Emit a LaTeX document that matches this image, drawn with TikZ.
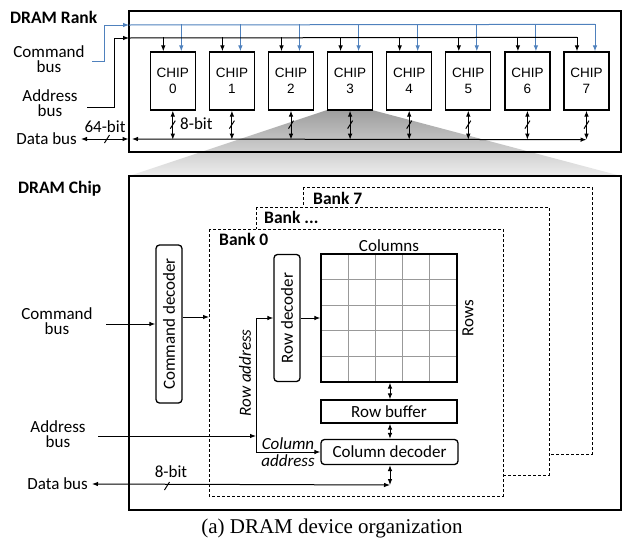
\documentclass[tikz,border=0pt]{standalone}
\usepackage{fontspec}
\setmainfont{Carlito}
\newfontfamily\chipfont{Liberation Sans}
\newfontfamily\capfont{Liberation Serif}
\usepackage{tikz}
\usetikzlibrary{arrows.meta}
\definecolor{cmdblue}{RGB}{79,129,189}
\def\busslash(#1,#2){\draw[wire] (#1-2.5,#2+4) -- (#1+2.5,#2-4);}
\tikzset{
  >={Latex[length=6pt,width=4.6pt]},
  wire/.style={line width=1pt},
  box/.style={draw, line width=1.3pt, fill=white, inner sep=0pt},
  chipbox/.style={box, minimum width=45pt, minimum height=58pt, align=center,
    font=\chipfont\fontsize{13.5}{16}\selectfont},
  rbox/.style={box, rounded corners=3.5pt},
  bankbox/.style={draw, line width=0.9pt, dash pattern=on 3pt off 2pt, fill=white},
  gridline/.style={line width=0.8pt, black!40},
  lbl/.style={font=\fontsize{17}{15.5}\selectfont, align=center, inner sep=0pt},
  title/.style={font=\bfseries\fontsize{17.5}{18}\selectfont, inner sep=0pt, anchor=west},
}

\begin{document}
\begin{tikzpicture}[x=1pt,y=-1pt]
		\useasboundingbox (0,0) rectangle (625,544);
		%%%%% RANK %%%%%
		\shade[top color=black!38, bottom color=black!7] (327,110) -- (372,110) -- (621,176) -- (129,176) -- cycle;
		\draw[line width=1.3pt] (129,11) rectangle (621,152);
		\node[title] (ranktitle) at (10,17) {DRAM Rank};
		\node[lbl] (rankcmd) at (49,59) {Command\\bus};
		\node[lbl] (rankaddr) at (50,103) {Address\\bus};
		\node[lbl, anchor=east] (rankdata) at (77,139) {Data bus};
		
		\foreach \i in {0,...,7}{
			\node[chipbox] (chip\i) at ({172.8+59.1*\i},81) {CHIP\\\i};
			\draw[wire,->] ([xshift=-9.5pt,yshift=14pt]chip\i.north) -- ([xshift=-9.5pt]chip\i.north);
			\draw[wire,cmdblue,->] ([xshift=8.5pt,yshift=27pt]chip\i.north) -- ([xshift=8.5pt]chip\i.north);
			\draw[wire,<->] (chip\i.south) -- ++(0,29);
			\draw[wire] ([xshift=-2.5pt,yshift=-18pt]chip\i.south) -- ([xshift=2.5pt,yshift=-10pt]chip\i.south);
		}
		\node[lbl, anchor=west] (chipwidth) at (180,124) {8-bit};
		
		\draw[wire,cmdblue,->] (92,61) -- (104,61) |- (129,25);
		\draw[wire,cmdblue] (129,25) -- ([xshift=8.5pt,yshift=27pt]chip7.north);
		\draw[wire,->] (87,107) -- (114,107) |- (129,38);
		\draw[wire] (129,38) -- ([xshift=-9.5pt,yshift=14pt]chip7.north);
		\draw[wire,<->] (132,139) -- ([yshift=-29pt]chip7.south);
		\draw[wire,<->] ([xshift=4pt]rankdata.east) -- (128.5,139);
		\busslash(107,139)
		\node[lbl] (rankwidth) at (105,127) {64-bit};
		
		%%%%% CHIP %%%%%
		\draw[line width=1.3pt] (129,176) rectangle (621,510);
		\node[title] (chiptitle) at (18,189) {DRAM Chip};
		
		\draw[bankbox] (303,187) rectangle (592,454);
		\node[title] (bank7) at (313,198) {Bank 7};
		\draw[bankbox] (256,207) rectangle (549,475);
		\node[title] (bankdots) at (264,217) {Bank ...};
		\draw[bankbox] (209,229) rectangle (503,496);
		\node[title] (bank0) at (219,239) {Bank 0};
		
		\node[rbox, minimum width=26pt, minimum height=158pt] (cmddec) at (169,324) {};
		\node[lbl, rotate=90] at (cmddec) {Command decoder};
		\node[rbox, minimum width=26pt, minimum height=127pt] (rowdec) at (287,318) {};
		\node[lbl, rotate=90] at (rowdec) {Row decoder};
		\node[box, minimum width=136pt, minimum height=128pt] (array) at (389,318) {};
		\foreach \k in {1,...,4}{
			\draw[gridline] ({321+27.2*\k},255) -- ({321+27.2*\k},381);
			\draw[gridline] (322,{254+25.6*\k}) -- (456,{254+25.6*\k});
		}
		\draw[line width=1.3pt] (array.north west) rectangle (array.south east);
		\node[lbl, anchor=south] (cols) at (389,252) {Columns};
		\node[lbl, rotate=90] (rows) at (468,318) {Rows};
		\node[box, minimum width=136pt, minimum height=23pt, lbl] (rowbuf) at (389,411.5) {Row buffer};
		\node[rbox, minimum width=137pt, minimum height=25pt, lbl] (coldec) at (389.5,452) {Column decoder};
		
		\node[lbl] (chipcmd) at (57,321) {Command\\bus};
		\node[lbl] (chipaddr) at (58,434) {Address\\bus};
		\node[lbl, anchor=east] (chipdata) at (88,484) {Data bus};
		\draw[wire,->] (106,324) -- (cmddec.west |- 0,324);
		\draw[wire,->] (cmddec.east |- 0,317) -- (209,317);
		\draw[wire,<->] (rowdec.west) -| (256,452) -- (coldec.west);
		\draw[wire,->] (98,436) -- (256,436);
		\draw[wire,->] (rowdec.east) -- (array.west);
		\node[lbl, font=\itshape\fontsize{17}{15}\selectfont, rotate=90] (rowaddr) at (245,373) {Row address};
		\node[lbl, font=\itshape\fontsize{17}{17}\selectfont] (coladdr) at (288,452) {Column\\address};
		
		\draw[wire,<->] (array.south -| 390,0) -- (rowbuf.north -| 390,0);
		\draw[wire,<->] (rowbuf.south -| 390,0) -- (coldec.north -| 390,0);
		\draw[wire,<->] (coldec.south -| 390,0) -- (390,485);
		\draw[wire,<->] ([xshift=4pt]chipdata.east) -- (390,485);
		\busslash(167,486)
		\node[lbl] (chipwidth2) at (171,472) {8-bit};
		
		\node[font=\capfont\fontsize{21}{24}\selectfont] (caption) at (332,528) {(a) DRAM device organization};
\end{tikzpicture}
\end{document}
